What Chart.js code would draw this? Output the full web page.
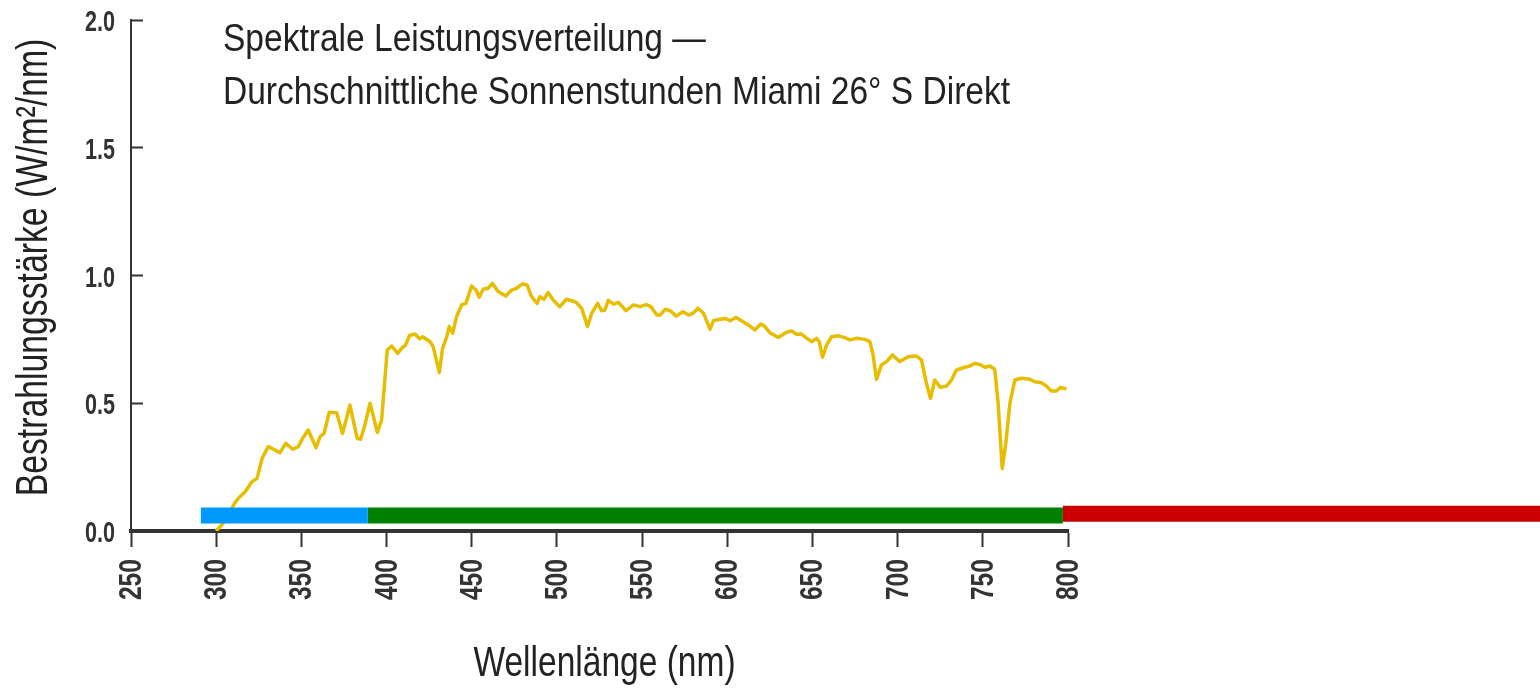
<!DOCTYPE html>
<html>
<head>
<meta charset="utf-8">
<script src="https://cdn.jsdelivr.net/npm/chart.js@4/dist/chart.umd.min.js"></script>
<style>
    html, body { margin: 0; padding: 0; background: #fff; }
    #wrap { width: 1540px; height: 691px; }
</style>
</head>
<body>
<div id="wrap"><canvas id="spectrum"></canvas></div>
<script>
// wavelength (nm) and irradiance (W/m2/nm)
const wavelength = [
    300, 304, 311, 313, 317, 321, 324, 327, 330.6, 334.5, 337.4, 340.8, 344.9, 348.2, 350.8, 354,
    358.6, 361, 363.3, 366.4, 370.7, 374.2, 378.5, 382.8, 384.8, 387.3, 390.3, 394.6, 397.1, 400.4,
    403, 406.5, 409.4, 411, 413.5, 416.7, 419.4, 421.2, 425.5, 427.4, 429.7, 431, 432.9, 435.3,
    436.8, 438.8, 441.1, 444.1, 446.6, 449.9, 452.5, 454.4, 456.7, 459.6, 462.2, 465.5, 470, 473.4,
    476.3, 479.8, 482.5, 485.1, 488.4, 490, 492.4, 494.9, 497.8, 501.7, 505.6, 508.6, 511.2, 514.5,
    518, 520.4, 523.9, 526.2, 528.2, 530.2, 533.2, 536.1, 540.6, 544.9, 548.9, 552.4, 555.2, 558.7,
    560.6, 563.6, 566.5, 570, 574, 577.3, 580.2, 582.8, 586.1, 589.9, 592, 596, 598.8, 601.6, 605,
    609.3, 613.3, 616.2, 619.7, 622.1, 625, 629.9, 634.8, 637.7, 640.7, 643.6, 646.1, 649.5, 652.4,
    654, 655.9, 658.3, 661.2, 665.1, 669, 672, 675.9, 680.8, 683.7, 685.6, 687.6, 690.5, 693.5, 697,
    701.3, 706.2, 711.1, 714, 716.9, 719.3, 721.8, 725.1, 728.7, 731.6, 734.5, 738.4, 742.4, 745.3,
    748.2, 751.2, 754.1, 757, 759, 761.4, 763.5, 765.9, 768.8, 772.7, 777.6, 780.5, 784.4, 787.4,
    790.3, 793.2, 795.6, 799.1
];
const irradiance = [
    0.0, 0.03, 0.11, 0.128, 0.154, 0.193, 0.206, 0.285, 0.33, 0.317, 0.306, 0.343, 0.32, 0.33, 0.363, 0.395,
    0.326, 0.369, 0.382, 0.465, 0.463, 0.382, 0.493, 0.363, 0.359, 0.415, 0.5, 0.386, 0.434, 0.708,
    0.724, 0.695, 0.719, 0.726, 0.765, 0.771, 0.752, 0.76, 0.741, 0.721, 0.656, 0.62, 0.715, 0.76,
    0.8, 0.774, 0.839, 0.885, 0.891, 0.959, 0.943, 0.915, 0.946, 0.95, 0.969, 0.937, 0.92, 0.943,
    0.95, 0.967, 0.963, 0.917, 0.891, 0.917, 0.907, 0.933, 0.904, 0.878, 0.907, 0.901, 0.896, 0.872,
    0.8, 0.852, 0.891, 0.862, 0.865, 0.903, 0.888, 0.895, 0.862, 0.885, 0.878, 0.886, 0.878, 0.845,
    0.845, 0.868, 0.862, 0.841, 0.858, 0.845, 0.854, 0.872, 0.852, 0.789, 0.824, 0.829, 0.832, 0.823, 0.836,
    0.819, 0.802, 0.787, 0.81, 0.8, 0.776, 0.757, 0.778, 0.783, 0.77, 0.771, 0.757, 0.741, 0.754,
    0.741, 0.68, 0.728, 0.76, 0.764, 0.757, 0.748, 0.754, 0.75, 0.741, 0.689, 0.594, 0.65, 0.663, 0.689,
    0.663, 0.682, 0.685, 0.669, 0.578, 0.519, 0.591, 0.562, 0.567, 0.591, 0.63, 0.639, 0.646, 0.656,
    0.652, 0.641, 0.646, 0.633, 0.5, 0.245, 0.343, 0.5, 0.591, 0.598, 0.594, 0.584, 0.58, 0.567,
    0.548, 0.548, 0.562, 0.556
];

// colour bands under the curve (UV / visible / IR)
const bandStart = [291, 389, 797];
const bandEnd = [389, 797, 1090];
const bandLevel = [0.061, 0.061, 0.068];
const bandColor = ['#0099ff', '#008000', '#cc0000'];

const titleLines = [
    'Spektrale Leistungsverteilung \u2014',
    'Durchschnittliche Sonnenstunden Miami 26\u00b0 S Direkt'
];
const xTitle = 'Wellenl\u00e4nge (nm)';
const yTitle = 'Bestrahlungsst\u00e4rke (W/m\u00b2/nm)';

const FONT = "'Liberation Sans', Arial, sans-serif";

const datasets = [];
for (let i = 0; i < bandStart.length; i++) {
    datasets.push({
        label: 'band' + i,
        data: [{ x: bandStart[i], y: bandLevel[i] }, { x: bandEnd[i], y: bandLevel[i] }],
        borderColor: bandColor[i],
        borderWidth: 16,
        borderCapStyle: 'butt',
        pointRadius: 0,
        clip: false
    });
}
datasets.push({
    label: 'Miami',
    data: wavelength.map((w, i) => ({ x: w, y: irradiance[i] })),
    borderColor: '#e6bd00',
    borderWidth: 3.5,
    borderJoinStyle: 'round',
    pointRadius: 0,
    tension: 0
});

// the original uses a tall condensed face; squeeze Liberation Sans to get close
function squeezedText(ctx, text, x, y, opt) {
    ctx.save();
    ctx.translate(x, y);
    if (opt.rotate) ctx.rotate(-Math.PI / 2);
    ctx.scale(opt.sx, 1);
    ctx.font = (opt.weight || 'normal') + ' ' + opt.size + 'px ' + FONT;
    ctx.fillStyle = opt.color || '#222';
    ctx.textAlign = opt.align || 'left';
    ctx.textBaseline = 'alphabetic';
    ctx.fillText(text, 0, 0);
    ctx.restore();
}

const textPlugin = {
    id: 'squeezedText',
    afterDraw(chart) {
        const ctx = chart.ctx;
        const xs = chart.scales.x, ys = chart.scales.y;
        const area = chart.chartArea;

        ys.ticks.forEach(t => {
            const py = ys.getPixelForValue(t.value);
            squeezedText(ctx, t.value.toFixed(1), 115, py + 11, { size: 30, sx: 0.72, weight: 'bold', color: '#333', align: 'right' });
        });
        xs.ticks.forEach(t => {
            const px = xs.getPixelForValue(t.value);
            squeezedText(ctx, String(t.value), px + 10, 559, { size: 32, sx: 0.77, weight: 'bold', color: '#333', align: 'right', rotate: true });
        });

        squeezedText(ctx, titleLines[0], 223, 51, { size: 39, sx: 0.86 });
        squeezedText(ctx, titleLines[1], 223, 104, { size: 39, sx: 0.86 });

        squeezedText(ctx, xTitle, (area.left + area.right) / 2 + 5, 676, { size: 43, sx: 0.78, align: 'center' });
        squeezedText(ctx, yTitle, 47, (area.top + area.bottom) / 2 - 8, { size: 45, sx: 0.75, align: 'center', rotate: true });
    }
};

new Chart(document.getElementById('spectrum'), {
    type: 'line',
    data: { datasets: datasets },
    plugins: [textPlugin],
    options: {
        responsive: true,
        maintainAspectRatio: false,
        animation: false,
        layout: { padding: { left: 0, right: 472, top: 20, bottom: 0 } },
        plugins: { legend: { display: false }, tooltip: { enabled: false } },
        scales: {
            x: {
                type: 'linear',
                min: 250,
                max: 800,
                ticks: { stepSize: 50, display: false },
                grid: { drawOnChartArea: false, drawTicks: true, tickLength: 16, tickWidth: 2, tickColor: '#333' },
                border: { display: true, width: 4, color: '#333' },
                afterFit(scale) { scale.height = 160; scale.paddingLeft = 0; scale.paddingRight = 0; }
            },
            y: {
                min: 0,
                max: 2,
                ticks: { stepSize: 0.5, display: false },
                grid: { drawOnChartArea: false, drawTicks: true, tickLength: -12, tickWidth: 2, tickColor: '#333' },
                border: { display: true, width: 2, color: '#333' },
                afterFit(scale) { scale.width = 131; scale.paddingTop = 0; scale.paddingBottom = 0; }
            }
        }
    }
});
</script>
</body>
</html>
